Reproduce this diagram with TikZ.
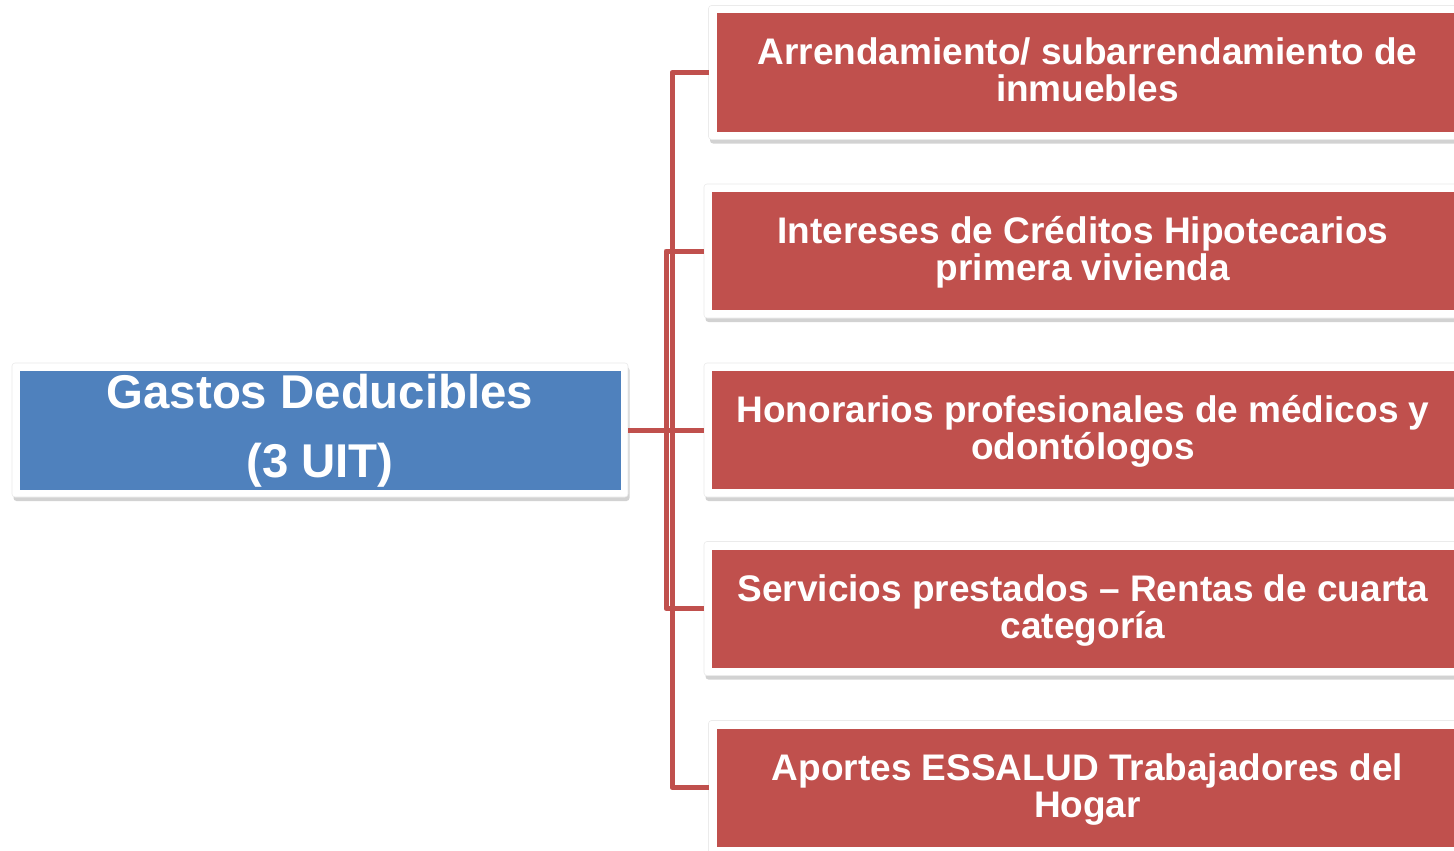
\documentclass[tikz,border=0pt]{standalone}
\usepackage{fontspec}
\setmainfont{Liberation Sans}
\usetikzlibrary{shadows,calc}
\definecolor{boxred}{HTML}{C0504D}
\definecolor{boxblue}{HTML}{4F81BD}
\tikzset{
  frame/.style={fill=white, draw=black!8, line width=0.6pt, rounded corners=3pt,
    drop shadow={opacity=0.35, shadow xshift=1.5pt, shadow yshift=-4pt},
    inner sep=0pt, outer sep=0pt},
  childframe/.style={frame, minimum width=758pt, minimum height=134pt},
  conn/.style={draw=boxred, line width=5pt, line join=round},
  lbl/.style={text=white, font=\bfseries\fontsize{37}{40}\selectfont, inner sep=0pt, anchor=base},
  mainlbl/.style={text=white, font=\bfseries\fontsize{47.4}{52}\selectfont, inner sep=0pt, anchor=base}
}
\begin{document}
\begin{tikzpicture}[x=1pt,y=-1pt]
\useasboundingbox (0,0) rectangle (1454,851);
\clip (0,0) rectangle (1454,851);
\fill[white] (0,0) rectangle (1454,851);
% frames
\node[frame, minimum width=616pt, minimum height=134pt] (main) at (320,430) {};
\node[childframe] (c1) at (1087.5,72.5) {};
\node[childframe] (c2) at (1083,251) {};
\node[childframe] (c3) at (1083,430) {};
\node[childframe] (c4) at (1083,608.5) {};
\node[childframe] (c5) at (1087.5,787.5) {};
% inner fills
\fill[boxblue] ([shift={(7.5,7.5)}]main.north west) rectangle ([shift={(-7.5,-7.5)}]main.south east);
\foreach \c in {c1,c2,c3,c4,c5}{
  \fill[boxred] ([shift={(8,8)}]\c.north west) rectangle ([shift={(-8,-8)}]\c.south east);
}
% connectors
\draw[conn] (main.east) -- ++(44,0) |- (c1.west);
\draw[conn] (main.east) -- ++(38,0) |- (c2.west);
\draw[conn] (main.east) -- (c3.west);
\draw[conn] (main.east) -- ++(38,0) |- (c4.west);
\draw[conn] (main.east) -- ++(44,0) |- (c5.west);
% texts
\node[mainlbl] (m1) at ([yshift=22pt]main.center) {Gastos Deducibles};
\node[mainlbl] (m2) at ([yshift=-47pt]main.center) {(3 UIT)};
\node[lbl] (t1a) at ([yshift=7.5pt]c1.center) {Arrendamiento/ subarrendamiento de};
\node[lbl] (t1b) at ([yshift=-29.5pt]c1.center) {inmuebles};
\node[lbl] (t2a) at ([yshift=7.5pt]c2.center) {Intereses de Créditos Hipotecarios};
\node[lbl] (t2b) at ([yshift=-29.5pt]c2.center) {primera vivienda};
\node[lbl] (t3a) at ([yshift=7.5pt]c3.center) {Honorarios profesionales de médicos y};
\node[lbl] (t3b) at ([yshift=-29.5pt]c3.center) {odontólogos};
\node[lbl] (t4a) at ([yshift=7.5pt]c4.center) {Servicios prestados – Rentas de cuarta};
\node[lbl] (t4b) at ([yshift=-29.5pt]c4.center) {categoría};
\node[lbl] (t5a) at ([yshift=7.5pt]c5.center) {Aportes ESSALUD Trabajadores del};
\node[lbl] (t5b) at ([yshift=-29.5pt]c5.center) {Hogar};
\end{tikzpicture}
\end{document}
